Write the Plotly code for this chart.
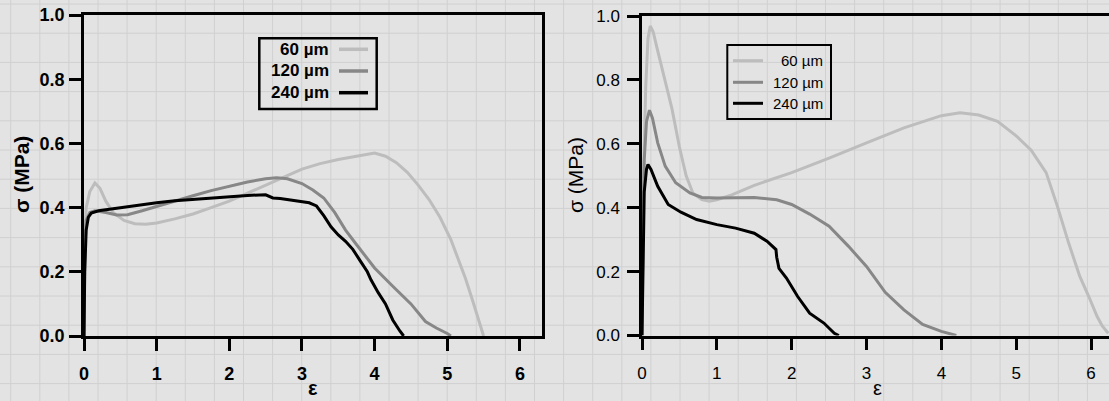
import plotly.graph_objects as go

# ---------------- data ----------------
sizes = ["60 µm", "120 µm", "240 µm"]
colors = ["#bdbdbd", "#878787", "#000000"]

# left panel
L60_x = [0, 0.01, 0.03, 0.08, 0.15, 0.22, 0.3, 0.4, 0.55, 0.7, 0.85, 1.0, 1.25, 1.5, 1.75, 2.0, 2.25, 2.5, 2.75, 3.0, 3.25, 3.5, 3.75, 4.0, 4.15, 4.3, 4.45, 4.6, 4.75, 4.9, 5.05, 5.15, 5.25, 5.35, 5.45, 5.5]
L60_y = [0, 0.3, 0.4, 0.45, 0.477, 0.46, 0.42, 0.385, 0.36, 0.35, 0.348, 0.352, 0.365, 0.38, 0.4, 0.42, 0.445, 0.47, 0.495, 0.52, 0.537, 0.55, 0.56, 0.57, 0.56, 0.54, 0.51, 0.47, 0.425, 0.37, 0.3, 0.24, 0.18, 0.11, 0.04, 0.0]

L120_x = [0, 0.01, 0.03, 0.08, 0.15, 0.3, 0.45, 0.6, 0.8, 1.0, 1.25, 1.5, 1.75, 2.0, 2.25, 2.5, 2.65, 2.8, 3.0, 3.15, 3.3, 3.45, 3.6, 3.75, 3.9, 4.0, 4.25, 4.5, 4.7, 4.85, 5.0, 5.05]
L120_y = [0, 0.25, 0.36, 0.385, 0.39, 0.385, 0.377, 0.378, 0.39, 0.404, 0.42, 0.437, 0.453, 0.467, 0.48, 0.49, 0.493, 0.49, 0.475, 0.455, 0.43, 0.385, 0.33, 0.285, 0.24, 0.212, 0.155, 0.1, 0.045, 0.025, 0.008, 0.0]

L240_x = [0, 0.01, 0.03, 0.06, 0.1, 0.2, 0.35, 0.5, 0.75, 1.0, 1.25, 1.5, 1.75, 2.0, 2.25, 2.5, 2.6, 2.7, 2.9, 3.1, 3.2, 3.3, 3.4, 3.5, 3.6, 3.7, 3.8, 3.9, 3.95, 4.05, 4.15, 4.25, 4.35, 4.4]
L240_y = [0, 0.2, 0.33, 0.37, 0.383, 0.39, 0.395, 0.4, 0.407, 0.415, 0.421, 0.425, 0.43, 0.435, 0.438, 0.44, 0.43, 0.428, 0.422, 0.415, 0.405, 0.375, 0.34, 0.315, 0.295, 0.27, 0.235, 0.2, 0.175, 0.135, 0.1, 0.05, 0.015, 0.0]

# right panel
R60_x = [0, 0.02, 0.05, 0.08, 0.11, 0.15, 0.2, 0.26, 0.33, 0.4, 0.5, 0.59, 0.68, 0.8, 0.9, 1.0, 1.2, 1.5, 2.0, 2.5, 3.0, 3.5, 4.0, 4.25, 4.5, 4.75, 5.0, 5.2, 5.4, 5.55, 5.7, 5.85, 5.97, 6.08, 6.15, 6.23]
R60_y = [0, 0.5, 0.78, 0.93, 0.969, 0.95, 0.9, 0.844, 0.78, 0.71, 0.59, 0.5, 0.446, 0.425, 0.42, 0.425, 0.44, 0.47, 0.51, 0.555, 0.603, 0.65, 0.688, 0.697, 0.69, 0.67, 0.625, 0.58, 0.51, 0.405, 0.29, 0.185, 0.122, 0.06, 0.03, 0.007]

R120_x = [0, 0.01, 0.03, 0.06, 0.1, 0.14, 0.21, 0.31, 0.45, 0.64, 0.8, 1.0, 1.5, 1.8, 2.0, 2.24, 2.5, 2.76, 3.0, 3.25, 3.5, 3.75, 4.0, 4.2]
R120_y = [0, 0.3, 0.55, 0.67, 0.705, 0.68, 0.603, 0.53, 0.478, 0.446, 0.432, 0.43, 0.432, 0.425, 0.41, 0.38, 0.342, 0.279, 0.216, 0.135, 0.08, 0.035, 0.013, 0.0]

R240_x = [0, 0.01, 0.03, 0.06, 0.08, 0.12, 0.21, 0.35, 0.52, 0.73, 1.0, 1.25, 1.5, 1.67, 1.79, 1.8, 1.83, 1.93, 2.08, 2.24, 2.43, 2.57, 2.63]
R240_y = [0, 0.2, 0.45, 0.52, 0.535, 0.52, 0.467, 0.41, 0.386, 0.363, 0.347, 0.336, 0.32, 0.295, 0.269, 0.245, 0.21, 0.18, 0.122, 0.07, 0.039, 0.007, 0.0]

x_ticks = [0, 1, 2, 3, 4, 5, 6]
y_ticks = [0.0, 0.2, 0.4, 0.6, 0.8, 1.0]

# ---------------- figure ----------------
W, H = 1109, 401
BG = "#e3e3e3"
GRID = "#d0d0d0"
FONT = "Liberation Sans"

fig = go.Figure()

left = [(L60_x, L60_y), (L120_x, L120_y), (L240_x, L240_y)]
right = [(R60_x, R60_y), (R120_x, R120_y), (R240_x, R240_y)]
for (x, y), name, c in zip(left, sizes, colors):
    fig.add_trace(go.Scatter(x=x, y=y, mode="lines", name=name, showlegend=False,
                             line=dict(color=c, width=3), xaxis="x", yaxis="y"))
for (x, y), name, c in zip(right, sizes, colors):
    fig.add_trace(go.Scatter(x=x, y=y, mode="lines", name=name, showlegend=False,
                             line=dict(color=c, width=3), xaxis="x2", yaxis="y2"))

def px_x(p):
    return p / W

def px_y(p):
    return 1 - p / H

shapes = []
# background graph-paper grid
k = 0
while 10.7 + 29.1 * k < W:
    xv = 10.7 + 29.1 * k
    shapes.append(dict(type="line", xref="paper", yref="paper", x0=px_x(xv), x1=px_x(xv),
                       y0=0, y1=1, line=dict(color=GRID, width=1), layer="below"))
    k += 1
k = 0
while 4 + 29.2 * k < H:
    yv = 4 + 29.2 * k
    shapes.append(dict(type="line", xref="paper", yref="paper", x0=0, x1=1,
                       y0=px_y(yv), y1=px_y(yv), line=dict(color=GRID, width=1), layer="below"))
    k += 1

annotations = []

# left legend (text right-aligned, line sample on the right)
shapes.append(dict(type="rect", xref="paper", yref="paper", x0=px_x(259.3), x1=px_x(376.7),
                   y0=px_y(38.3), y1=px_y(109), line=dict(color="black", width=2.5)))
for name, c, yy in zip(sizes, colors, [49.3, 71, 92.7]):
    shapes.append(dict(type="line", xref="paper", yref="paper", x0=px_x(339), x1=px_x(368),
                       y0=px_y(yy), y1=px_y(yy), line=dict(color=c, width=3.5)))
    annotations.append(dict(text=name, xref="paper", yref="paper", x=px_x(331), y=px_y(yy),
                            xanchor="right", yanchor="middle", showarrow=False,
                            font=dict(family=FONT, size=17, color="black", weight="bold")))

# right legend (line sample left, text right-aligned)
shapes.append(dict(type="rect", xref="paper", yref="paper", x0=px_x(727.3), x1=px_x(831),
                   y0=px_y(45), y1=px_y(119), line=dict(color="black", width=2)))
for name, c, yy in zip(sizes, colors, [60.7, 82.3, 103.3]):
    shapes.append(dict(type="line", xref="paper", yref="paper", x0=px_x(733), x1=px_x(763),
                       y0=px_y(yy), y1=px_y(yy), line=dict(color=c, width=3)))
    annotations.append(dict(text=name, xref="paper", yref="paper", x=px_x(825), y=px_y(yy),
                            xanchor="right", yanchor="middle", showarrow=False,
                            font=dict(family=FONT, size=15, color="black")))

# axis titles
annotations += [
    dict(text="σ (MPa)", xref="paper", yref="paper", x=px_x(21), y=px_y(175), textangle=-90,
         showarrow=False, xanchor="center", yanchor="middle",
         font=dict(family=FONT, size=21, color="black", weight="bold")),
    dict(text="σ (MPa)", xref="paper", yref="paper", x=px_x(575), y=px_y(175), textangle=-90,
         showarrow=False, xanchor="center", yanchor="middle",
         font=dict(family=FONT, size=21, color="black")),
    dict(text="ε", xref="paper", yref="paper", x=px_x(313), y=px_y(388),
         showarrow=False, xanchor="center", yanchor="middle",
         font=dict(family=FONT, size=20, color="black", weight="bold")),
    dict(text="ε", xref="paper", yref="paper", x=px_x(877), y=px_y(388),
         showarrow=False, xanchor="center", yanchor="middle",
         font=dict(family=FONT, size=20, color="black")),
]

axis_common = dict(showline=True, linecolor="black", linewidth=2.5, ticks="outside",
                   ticklen=12, tickwidth=2.5, tickcolor="black", showgrid=False,
                   zeroline=False, fixedrange=True, automargin=False)

fig.update_layout(
    width=W, height=H,
    margin=dict(l=0, r=0, t=0, b=0, pad=0),
    paper_bgcolor=BG, plot_bgcolor="rgba(0,0,0,0)",
    shapes=shapes, annotations=annotations,
    showlegend=False, hovermode=False,
    xaxis=dict(domain=[84 / W, 541.7 / W], range=[0, 6.30], tickvals=x_ticks, mirror=True,
               anchor="y", tickfont=dict(family=FONT, size=18, color="black", weight="bold"),
               ticklabelstandoff=8, **axis_common),
    yaxis=dict(domain=[px_y(336), px_y(15)], range=[0, 1], tickvals=y_ticks, tickformat=".1f",
               mirror=True, anchor="x",
               tickfont=dict(family=FONT, size=18, color="black", weight="bold"),
               ticklabelstandoff=1, **axis_common),
    xaxis2=dict(domain=[642 / W, 1.0], range=[0, 6.24], tickvals=x_ticks, mirror=True,
                anchor="y2", tickfont=dict(family=FONT, size=17, color="black"),
                ticklabelstandoff=8, **axis_common),
    yaxis2=dict(domain=[px_y(335.5), px_y(16)], range=[0, 1], tickvals=y_ticks, tickformat=".1f",
                mirror=False, anchor="x2",
                tickfont=dict(family=FONT, size=17, color="black"),
                ticklabelstandoff=4, **axis_common),
)

fig.write_html("out.html", config={"displayModeBar": False},
               post_script="document.body.style.margin='0';")
